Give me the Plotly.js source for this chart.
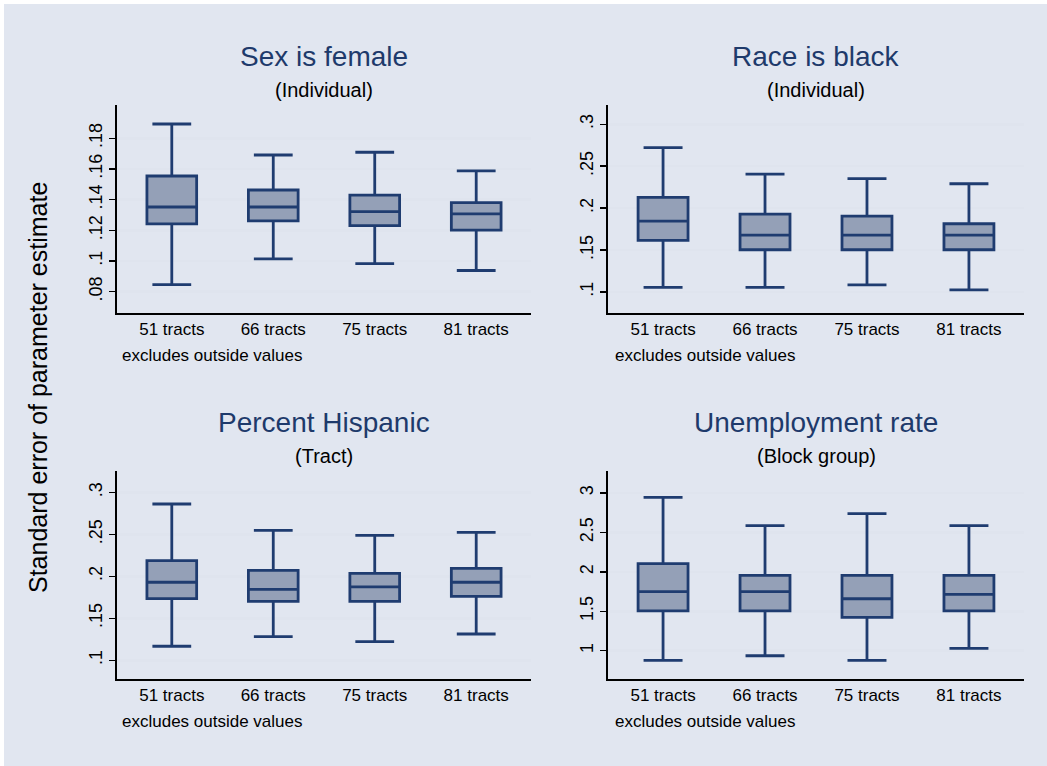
<!DOCTYPE html>
<html>
<head>
<meta charset="utf-8">
<script src="https://cdn.plot.ly/plotly-3.0.1.min.js"></script>
<style>
  html, body { margin: 0; padding: 0; background: #ffffff; }
  #chart { width: 1047px; height: 766px; }
</style>
</head>
<body>
<div id="chart"></div>
<script>
// ---- Data ----
const categories = ['51 tracts', '66 tracts', '75 tracts', '81 tracts'];

// Sex is female (Individual)
const sexLower  = [0.0846, 0.1014, 0.0983, 0.0938];
const sexQ1     = [0.1242, 0.1261, 0.1231, 0.1201];
const sexMedian = [0.1352, 0.1352, 0.1322, 0.1307];
const sexQ3     = [0.1554, 0.1463, 0.1429, 0.1381];
const sexUpper  = [0.1893, 0.1691, 0.1709, 0.1587];

// Race is black (Individual)
const raceLower  = [0.1055, 0.1055, 0.1086, 0.1026];
const raceQ1     = [0.1616, 0.1504, 0.1504, 0.1504];
const raceMedian = [0.1846, 0.1679, 0.1679, 0.1679];
const raceQ3     = [0.2129, 0.1930, 0.1906, 0.1814];
const raceUpper  = [0.2721, 0.2407, 0.2351, 0.2291];

// Percent Hispanic (Tract)
const hispLower  = [0.1167, 0.1281, 0.1222, 0.1313];
const hispQ1     = [0.1733, 0.1702, 0.1702, 0.1762];
const hispMedian = [0.1929, 0.1845, 0.1873, 0.1929];
const hispQ3     = [0.2186, 0.2071, 0.2036, 0.2095];
const hispUpper  = [0.2861, 0.2548, 0.2488, 0.2524];

// Unemployment rate (Block group)
const unempLower  = [0.877, 0.936, 0.877, 1.029];
const unempQ1     = [1.506, 1.506, 1.422, 1.506];
const unempMedian = [1.748, 1.748, 1.659, 1.714];
const unempQ3     = [2.103, 1.956, 1.956, 1.956];
const unempUpper  = [2.945, 2.585, 2.738, 2.585];

// Tick labels
const sexTickVals = [0.08, 0.10, 0.12, 0.14, 0.16, 0.18];
const sexTickText = ['.08', '.1', '.12', '.14', '.16', '.18'];
const propTickVals = [0.10, 0.15, 0.20, 0.25, 0.30];
const propTickText = ['.1', '.15', '.2', '.25', '.3'];
const unempTickVals = [1, 1.5, 2, 2.5, 3];
const unempTickText = ['1', '1.5', '2', '2.5', '3'];

const panelTitles = ['Sex is female', 'Race is black', 'Percent Hispanic', 'Unemployment rate'];
const panelSubtitles = ['(Individual)', '(Individual)', '(Tract)', '(Block group)'];
const noteText = 'excludes outside values';
const yTitleText = 'Standard error of parameter estimate';

// ---- Styling ----
const W = 1047, H = 766;
const FONT = '"Liberation Sans", Arial, sans-serif';
const navy = '#1f3c70';
const boxFill = '#94a0b7';
const bg = '#e1e6f0';
const gridCol = '#dfe4ee';

function px(x) { return x / W; }
function py(y) { return 1 - y / H; }

const xDomL = [px(117), px(531)];
const xDomR = [px(608), px(1024)];
const yDomT = [py(313), py(105)];
const yDomB = [py(679), py(471)];

function boxTrace(lo, q1, med, q3, hi, xa, ya) {
  return {
    type: 'box',
    x: categories,
    lowerfence: lo, q1: q1, median: med, q3: q3, upperfence: hi,
    xaxis: xa, yaxis: ya,
    fillcolor: boxFill,
    line: { color: navy, width: 2.8 },
    width: 0.49,
    whiskerwidth: 0.78,
    boxpoints: false,
    hoverinfo: 'skip',
    showlegend: false
  };
}

const data = [
  boxTrace(sexLower, sexQ1, sexMedian, sexQ3, sexUpper, 'x', 'y'),
  boxTrace(raceLower, raceQ1, raceMedian, raceQ3, raceUpper, 'x2', 'y2'),
  boxTrace(hispLower, hispQ1, hispMedian, hispQ3, hispUpper, 'x3', 'y3'),
  boxTrace(unempLower, unempQ1, unempMedian, unempQ3, unempUpper, 'x4', 'y4')
];

function xAxis(domain, anchor) {
  return {
    domain: domain, anchor: anchor,
    type: 'category',
    range: [-0.54, 3.54],
    showline: true, linecolor: '#000000', linewidth: 2,
    showgrid: false, zeroline: false,
    ticks: '', ticklen: 0,
    tickfont: { family: FONT, size: 17, color: '#000000' },
    fixedrange: true
  };
}
function yAxis(domain, anchor, range, vals, text) {
  return {
    domain: domain, anchor: anchor,
    range: range,
    showline: true, linecolor: '#000000', linewidth: 2,
    showgrid: true, gridcolor: gridCol, gridwidth: 2.5,
    zeroline: false,
    ticks: 'outside', ticklen: 6, tickwidth: 1.5, tickcolor: '#000000',
    tickvals: vals, ticktext: text,
    tickangle: -90,
    tickfont: { family: FONT, size: 18, color: '#000000' },
    fixedrange: true
  };
}

const panelCenters = [
  [(117 + 531) / 2, 105], [(608 + 1024) / 2, 105],
  [(117 + 531) / 2, 471], [(608 + 1024) / 2, 471]
];
const annotations = [];
panelCenters.forEach(function (c, i) {
  annotations.push({
    xref: 'paper', yref: 'paper', x: px(c[0]), y: py(c[1] - 49),
    text: panelTitles[i], showarrow: false, xanchor: 'center', yanchor: 'middle',
    font: { family: FONT, size: 28, color: '#1e3a6b' }
  });
  annotations.push({
    xref: 'paper', yref: 'paper', x: px(c[0]), y: py(c[1] - 15),
    text: panelSubtitles[i], showarrow: false, xanchor: 'center', yanchor: 'middle',
    font: { family: FONT, size: 20, color: '#000000' }
  });
});
[[120, 355], [613, 355], [120, 721], [613, 721]].forEach(function (p) {
  annotations.push({
    xref: 'paper', yref: 'paper', x: px(p[0]), y: py(p[1]),
    text: noteText, showarrow: false, xanchor: 'left', yanchor: 'middle',
    font: { family: FONT, size: 17, color: '#000000' }
  });
});
annotations.push({
  xref: 'paper', yref: 'paper', x: px(38), y: py(388),
  text: yTitleText, showarrow: false, textangle: -90,
  xanchor: 'center', yanchor: 'middle',
  font: { family: FONT, size: 25, color: '#000000' }
});

const layout = {
  width: W, height: H,
  margin: { l: 0, r: 0, t: 0, b: 0, pad: 0 },
  paper_bgcolor: '#ffffff',
  plot_bgcolor: '#ffffff',
  showlegend: false,
  xaxis: xAxis(xDomL, 'y'),
  yaxis: yAxis(yDomT, 'x', [0.0661, 0.2017], sexTickVals, sexTickText),
  xaxis2: xAxis(xDomR, 'y2'),
  yaxis2: yAxis(yDomT, 'x2', [0.075, 0.323], propTickVals, propTickText),
  xaxis3: xAxis(xDomL, 'y3'),
  yaxis3: yAxis(yDomB, 'x3', [0.0777, 0.3254], propTickVals, propTickText),
  xaxis4: xAxis(xDomR, 'y4'),
  yaxis4: yAxis(yDomB, 'x4', [0.641, 3.279], unempTickVals, unempTickText),
  shapes: [{
    type: 'rect', xref: 'paper', yref: 'paper', layer: 'below',
    x0: px(4), x1: 1, y0: 0, y1: py(4),
    fillcolor: bg, line: { width: 0 }
  }],
  annotations: annotations
};

Plotly.newPlot('chart', data, layout, { displayModeBar: false, staticPlot: true });
</script>
</body>
</html>
